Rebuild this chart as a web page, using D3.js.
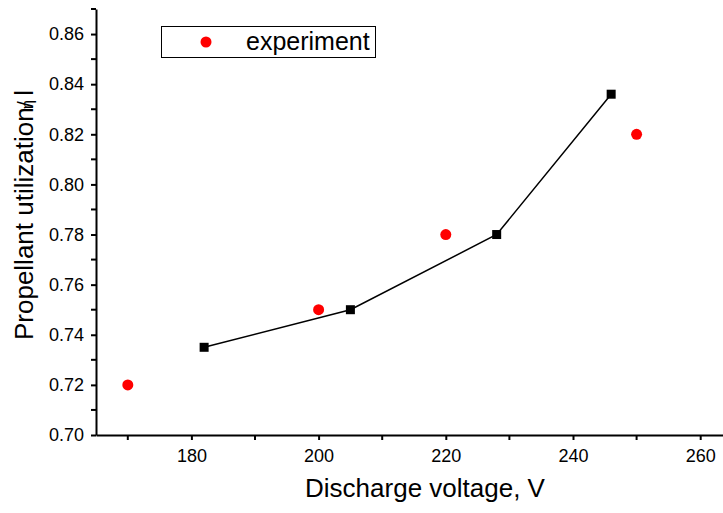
<!DOCTYPE html>
<html>
<head>
<meta charset="utf-8">
<script src="https://cdn.jsdelivr.net/npm/d3@7"></script>
<style>
  body { margin: 0; background: #fff; }
  text { font-family: "Liberation Sans", Arial, sans-serif; }
</style>
</head>
<body>
<svg id="chart" width="723" height="513"></svg>
<script>
// Model (black squares joined by line)
const modelVoltage = [182, 205, 228, 246];
const modelUtil = [0.735, 0.750, 0.780, 0.836];

// Experiment (red dots)
const expVoltage = [170, 200, 220, 250];
const expUtil = [0.72, 0.75, 0.78, 0.82];

const xMajor = [180, 200, 220, 240, 260];
const xMinor = [170, 190, 210, 230, 250];
const yMajor = [0.70, 0.72, 0.74, 0.76, 0.78, 0.80, 0.82, 0.84, 0.86];
const yMinor = [0.71, 0.73, 0.75, 0.77, 0.79, 0.81, 0.83, 0.85, 0.87];

const svg = d3.select("#chart");

const x = d3.scaleLinear().domain([165, 265]).range([96, 732]);
const y = d3.scaleLinear().domain([0.70, 0.87]).range([435, 9]);

// Axes
const xAxis = svg.append("g").attr("transform", `translate(0,${y(0.70)})`)
  .call(d3.axisBottom(x).tickValues(xMajor).tickSize(5).tickSizeOuter(0).tickFormat(d3.format("d")));
xAxis.append("g").selectAll("line").data(xMinor).join("line")
  .attr("x1", d => x(d)).attr("x2", d => x(d)).attr("y1", 0).attr("y2", 5)
  .attr("stroke", "#000").attr("stroke-width", 2);

const yAxis = svg.append("g").attr("transform", `translate(${x(165)},0)`)
  .call(d3.axisLeft(y).tickValues(yMajor).tickSize(5).tickSizeOuter(0).tickFormat(d3.format(".2f")));
yAxis.append("g").selectAll("line").data(yMinor).join("line")
  .attr("y1", d => y(d)).attr("y2", d => y(d)).attr("x1", 0).attr("x2", -5)
  .attr("stroke", "#000").attr("stroke-width", 2);

svg.selectAll(".domain").attr("stroke", "#000").attr("stroke-width", 2);
svg.selectAll(".tick line").attr("stroke", "#000").attr("stroke-width", 2);
svg.selectAll(".tick text").attr("fill", "#000").style("font-size", "18px")
  .style("font-family", "'Liberation Sans', Arial, sans-serif");
xAxis.selectAll(".tick text").attr("dy", null).attr("y", 27);
yAxis.selectAll(".tick text").attr("x", -12);

// Axis titles
svg.append("text")
  .attr("x", 425).attr("y", 497)
  .attr("text-anchor", "middle")
  .style("font-size", "26px")
  .text("Discharge voltage, V");

const yTitle = svg.append("text")
  .attr("transform", "translate(33,215) rotate(-90)")
  .attr("text-anchor", "middle")
  .style("font-size", "26px");
yTitle.append("tspan").text("Propellant utilization");
yTitle.append("tspan").text("/").style("font-size", "22px");
yTitle.append("tspan").text("η").attr("dx", -8).style("font-size", "17px");
yTitle.append("tspan").text("l").attr("dx", 4);

// Model line
const line = d3.line().x(d => x(d[0])).y(d => y(d[1]));
const modelData = modelVoltage.map((v, i) => [v, modelUtil[i]]);
svg.append("path").datum(modelData)
  .attr("d", line).attr("fill", "none").attr("stroke", "#000").attr("stroke-width", 1.5);
svg.append("g").selectAll("rect").data(modelData).join("rect")
  .attr("x", d => x(d[0]) - 4.5).attr("y", d => y(d[1]) - 4.5)
  .attr("width", 9).attr("height", 9).attr("fill", "#000");

// Experiment points
const expData = expVoltage.map((v, i) => [v, expUtil[i]]);
svg.append("g").selectAll("circle").data(expData).join("circle")
  .attr("cx", d => x(d[0])).attr("cy", d => y(d[1]))
  .attr("r", 5.5).attr("fill", "#ff0000");

// Legend
const legend = svg.append("g");
legend.append("rect").attr("x", 161.5).attr("y", 26.5).attr("width", 214).attr("height", 31)
  .attr("fill", "#fff").attr("stroke", "#000").attr("stroke-width", 1);
legend.append("circle").attr("cx", 206).attr("cy", 42).attr("r", 5.5).attr("fill", "#ff0000");
legend.append("text").attr("x", 246).attr("y", 50).style("font-size", "25px").text("experiment");
</script>
</body>
</html>
